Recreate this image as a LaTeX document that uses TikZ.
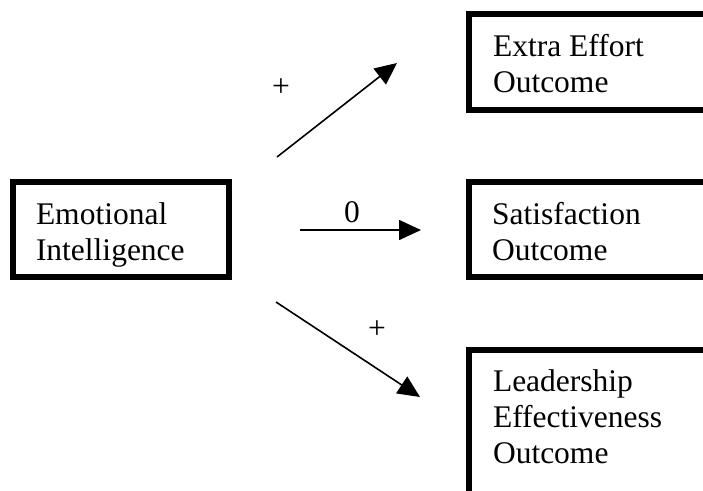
\documentclass[tikz,border=0pt]{standalone}
\usepackage{fontspec}
\setmainfont{Liberation Serif}
\usetikzlibrary{arrows.meta}
\begin{document}
\begin{tikzpicture}[x=1pt,y=-1pt,
  box/.style={draw=black, line width=6pt, inner sep=0pt, outer sep=0pt, rectangle},
  txt/.style={anchor=base west, inner sep=0pt, outer sep=0pt, align=left, font=\fontsize{31.5}{36}\selectfont},
  sign/.style={inner sep=0pt, outer sep=0pt, font=\fontsize{31.5}{36}\selectfont},
  conn/.style={line width=1.6pt, -{Triangle[length=22pt,width=20pt]}}]
\useasboundingbox (0,0) rectangle (703,490);
\clip (0,0) rectangle (703,490);
% boxes
\node[box, minimum width=216pt, minimum height=95pt] (ei) at (121,229.5) {};
\node[box, minimum width=271pt, minimum height=96pt] (ee) at (604.5,62) {};
\node[box, minimum width=271pt, minimum height=95pt] (sa) at (604.5,229.5) {};
\node[box, minimum width=271pt, minimum height=190pt] (le) at (604.5,445) {};
% texts (anchor = baseline of last line)
\node[txt] (eit) at (36,260) {Emotional\\Intelligence};
\node[txt] (eet) at (493,92) {Extra Effort\\Outcome};
\node[txt] (sat) at (492,260) {Satisfaction\\Outcome};
\node[txt] (let) at (493,463) {Leadership\\Effectiveness\\Outcome};
% connectors
\coordinate (a1s) at (277,157);
\coordinate (a1e) at (397,63);
\coordinate (a2s) at (300,230);
\coordinate (a2m) at (325,230);
\coordinate (a2e) at (421,230);
\coordinate (a3s) at (276,302);
\coordinate (a3e) at (420,397);
\draw[conn] (a1s) -- (a1e);
\draw[conn] (a2s) -- (a2e);
\draw[line width=2.6pt] (a2s) -- (a2m);
\draw[conn] (a3s) -- (a3e);
% labels
\node[sign] (p1) at (281,88) {+};
\node[sign] (z) at (352,212) {0};
\node[sign] (p3) at (377,330) {+};
\end{tikzpicture}
\end{document}
